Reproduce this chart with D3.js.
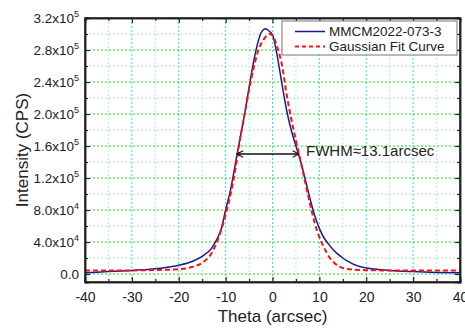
<!DOCTYPE html>
<html>
<head>
<meta charset="utf-8">
<script src="https://cdn.jsdelivr.net/npm/d3@7"></script>
<style>
  body { margin: 0; background: #fff; }
  text { font-family: "Liberation Sans", Arial, sans-serif; fill: #222; }
</style>
</head>
<body>
<svg id="drawing_region"></svg>
<script>
const measTheta = [-40, -35, -30, -25, -20, -17, -15, -13, -12, -11, -10, -9, -8, -7, -6, -5, -4, -3, -2.5, -2, -1.5, -1, -0.5, 0, 1, 2, 3, 4, 5, 6, 7, 8, 9, 10, 11, 12, 13, 14, 15, 16, 17, 18, 20, 25, 30, 35, 40];
const measCps = [1500, 3000, 4500, 6500, 11000, 16000, 22000, 32000, 42000, 55000, 80000, 104000, 135000, 167000, 198000, 233000, 266000, 292000, 301000, 305000, 306500, 305000, 302500, 299000, 273000, 238000, 205000, 180000, 160000, 141000, 118000, 94000, 73000, 57000, 45000, 37000, 30000, 24500, 20000, 16000, 13000, 10500, 7500, 4500, 3000, 2000, 1500];

// gaussian fit curve
const fitTheta = [-40, -30, -25, -20, -17, -15, -13, -12, -11, -10, -9, -8, -7, -6, -5, -4, -3, -2, -1, -0.5, 0, 1, 2, 3, 4, 5, 6, 7, 8, 9, 10, 11, 12, 13, 14, 15, 17, 20, 25, 30, 40];
const fitCps = [4500, 4500, 5000, 6000, 9000, 14000, 26000, 38000, 54000, 74000, 98000, 128000, 166000, 198000, 230000, 258000, 280000, 292000, 299000, 300000, 298000, 284000, 262000, 225000, 194000, 167000, 141000, 114000, 88000, 64000, 46000, 33000, 22000, 15000, 10000, 7500, 5500, 4800, 4500, 4500, 4500];

const seriesNames = ["MMCM2022-073-3", "Gaussian Fit Curve"];
const xTicks = [-40, -30, -20, -10, 0, 10, 20, 30, 40];
const yTicks = [0, 40000, 80000, 120000, 160000, 200000, 240000, 280000, 320000];
const yTickMant = ["0.0", "4.0", "8.0", "1.2", "1.6", "2.0", "2.4", "2.8", "3.2"];
const yTickExp = ["", "4", "4", "5", "5", "5", "5", "5", "5"];
const fwhm = { from: -7.6, to: 5.65, level: 150000, label: "FWHM\u224813.1arcsec" };

const W = 465, H = 329;
const margin = { top: 18, right: 5, bottom: 47, left: 85 };
const iw = W - margin.left - margin.right;
const ih = H - margin.top - margin.bottom;

const svg = d3.select('#drawing_region').attr('width', W).attr('height', H);
const g = svg.append('g').attr('transform', `translate(${margin.left},${margin.top})`);

const x = d3.scaleLinear().domain([-40, 40]).range([0, iw]);
const y = d3.scaleLinear().domain([-10000, 320000]).range([ih, 0]);

const xMinor = d3.range(-35, 40, 10);
const yMinor = d3.range(20000, 320000, 40000);

// grid
g.append('g').selectAll('line').data(xMinor).join('line')
  .attr('x1', d => x(d)).attr('x2', d => x(d)).attr('y1', 0).attr('y2', ih)
  .attr('stroke', '#9ff5f5').attr('stroke-width', 1).attr('stroke-dasharray', '2,2');
g.append('g').selectAll('line').data(xTicks.slice(1, -1)).join('line')
  .attr('x1', d => x(d)).attr('x2', d => x(d)).attr('y1', 0).attr('y2', ih)
  .attr('stroke', '#22e5e5').attr('stroke-width', 1).attr('stroke-dasharray', '2,2');
g.append('g').selectAll('line').data(yMinor).join('line')
  .attr('x1', 0).attr('x2', iw).attr('y1', d => y(d)).attr('y2', d => y(d))
  .attr('stroke', '#a8f0a8').attr('stroke-width', 1).attr('stroke-dasharray', '2,2');
g.append('g').selectAll('line').data(yTicks.slice(0, -1)).join('line')
  .attr('x1', 0).attr('x2', iw).attr('y1', d => y(d)).attr('y2', d => y(d))
  .attr('stroke', '#22dd22').attr('stroke-width', 1.2).attr('stroke-dasharray', '2,2');

// curves
const meas = measTheta.map((t, i) => [t, measCps[i]]);
const fit = fitTheta.map((t, i) => [t, fitCps[i]]);
const line = d3.line().x(d => x(d[0])).y(d => y(d[1])).curve(d3.curveMonotoneX);

g.append('path').datum(meas).attr('d', line)
  .attr('fill', 'none').attr('stroke', '#1a1a90').attr('stroke-width', 1.5);
g.append('path').datum(fit).attr('d', line)
  .attr('fill', 'none').attr('stroke', '#ff1010').attr('stroke-width', 2)
  .attr('stroke-dasharray', '5,3');

// axes (inward ticks, mirrored)
const axB = g.append('g').attr('transform', `translate(0,${ih})`)
  .call(d3.axisBottom(x).tickValues(xTicks).tickSize(-5).tickPadding(10).tickFormat(d => String(d)));
g.append('g').call(d3.axisTop(x).tickValues(xTicks).tickSize(-5).tickFormat(''));
g.append('g').call(d3.axisLeft(y).tickValues(yTicks).tickSize(-5).tickFormat(''));
g.append('g').attr('transform', `translate(${iw},0)`)
  .call(d3.axisRight(y).tickValues(yTicks).tickSize(-5).tickFormat(''));

// minor ticks
g.append('g').attr('transform', `translate(0,${ih})`)
  .call(d3.axisBottom(x).tickValues(xMinor).tickSize(-3).tickFormat(''));
g.append('g').call(d3.axisTop(x).tickValues(xMinor).tickSize(-3).tickFormat(''));
g.append('g').call(d3.axisLeft(y).tickValues(yMinor).tickSize(-3).tickFormat(''));
g.append('g').attr('transform', `translate(${iw},0)`)
  .call(d3.axisRight(y).tickValues(yMinor).tickSize(-3).tickFormat(''));

g.selectAll('.domain').attr('stroke', '#222').attr('stroke-width', 1.5);
g.selectAll('.tick line').attr('stroke', '#222').attr('stroke-width', 1.2);
axB.selectAll('text').attr('font-size', 14).attr('fill', '#222')
  .attr('font-family', '"Liberation Sans", Arial, sans-serif');
g.append('rect').attr('width', iw).attr('height', ih)
  .attr('fill', 'none').attr('stroke', '#222').attr('stroke-width', 1.5);

// y tick labels with superscripts
const yl = g.append('g').selectAll('text').data(yTicks).join('text')
  .attr('x', -6).attr('y', d => y(d)).attr('dy', '0.35em')
  .attr('text-anchor', 'end').attr('font-size', 13.5);
yl.each(function(d, i) {
  const t = d3.select(this);
  if (yTickExp[i]) {
    t.append('tspan').text(yTickMant[i] + 'x10');
    t.append('tspan').attr('font-size', 9).attr('dy', '-0.6em').text(yTickExp[i]);
  } else {
    t.text(yTickMant[i]);
  }
});

// axis titles
svg.append('text').attr('x', margin.left + iw / 2).attr('y', 322)
  .attr('text-anchor', 'middle').attr('font-size', 17).text('Theta (arcsec)');
svg.append('text').attr('transform', `translate(28,${margin.top + ih / 2}) rotate(-90)`)
  .attr('text-anchor', 'middle').attr('font-size', 17).text('Intensity (CPS)');

// FWHM annotation
const defs = svg.append('defs');
['s', 'e'].forEach(k => {
  defs.append('marker').attr('id', 'arr' + k).attr('viewBox', '0 0 10 10')
    .attr('refX', 9).attr('refY', 5).attr('markerWidth', 8).attr('markerHeight', 8)
    .attr('markerUnits', 'userSpaceOnUse')
    .attr('orient', k === 'e' ? 'auto' : 'auto-start-reverse')
    .append('path').attr('d', 'M1,1 L9,5 L1,9').attr('fill', 'none')
    .attr('stroke', '#111').attr('stroke-width', 1.3);
});
g.append('line').attr('x1', x(fwhm.from)).attr('x2', x(fwhm.to))
  .attr('y1', y(fwhm.level)).attr('y2', y(fwhm.level))
  .attr('stroke', '#111').attr('stroke-width', 1.3)
  .attr('marker-start', 'url(#arrs)').attr('marker-end', 'url(#arre)');
g.append('text').attr('x', x(fwhm.to) + 7).attr('y', y(fwhm.level) + 1.5)
  .attr('font-size', 15).text(fwhm.label);

// legend
const lg = svg.append('g').attr('transform', 'translate(282,21)');
lg.append('rect').attr('width', 175).attr('height', 34)
  .attr('fill', '#fff').attr('stroke', '#777').attr('stroke-width', 1);
const colors = ['#1a1a90', '#ff1010'];
seriesNames.forEach((n, i) => {
  lg.append('line').attr('x1', 13).attr('x2', 43).attr('y1', 10.5 + i * 15).attr('y2', 10.5 + i * 15)
    .attr('stroke', colors[i]).attr('stroke-width', i ? 2 : 1.5)
    .attr('stroke-dasharray', i ? '4,3' : null);
  lg.append('text').attr('x', 47).attr('y', 15 + i * 15).attr('font-size', 13.5).text(n);
});
</script>
</body>
</html>
